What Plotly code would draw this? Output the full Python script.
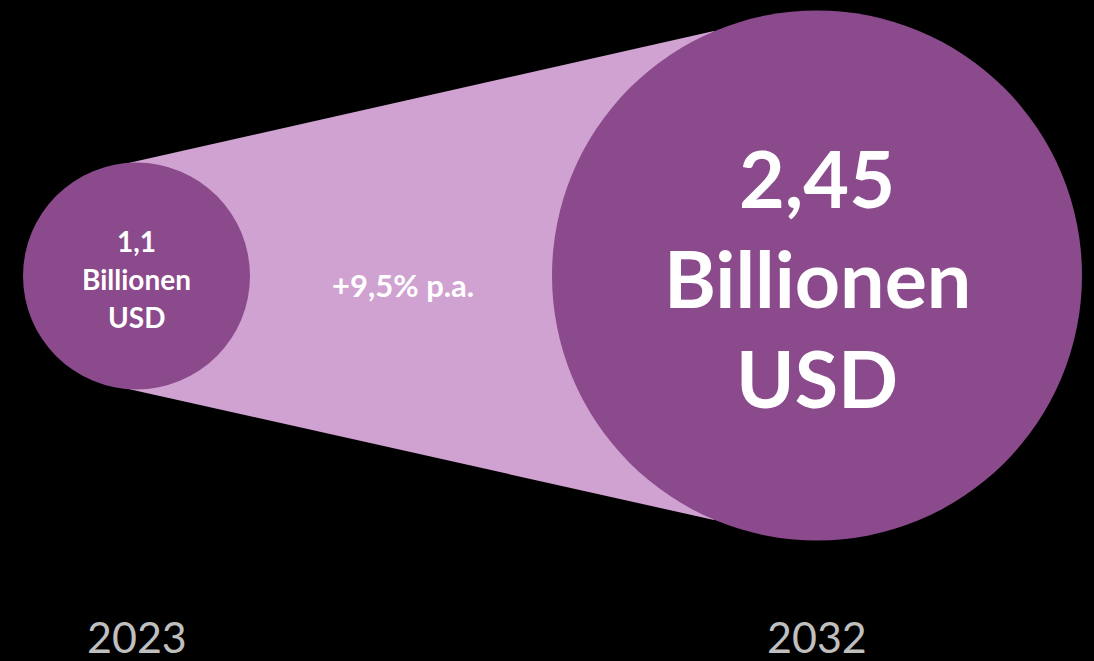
import plotly.graph_objects as go

years = ["2023", "2032"]
values = ["1,1", "2,45"]
unit_lines = ["Billionen", "USD"]
growth_label = "+9,5% p.a."

W, H = 1094, 661
DARK = "#8A4A8C"
LIGHT = "#D0A2D1"
GRAY = "#BFBFBF"

# layout geometry (pixel space)
small_c, small_r = (136.5, 276), 113.5
big_c, big_r = (817, 275.5), 265

fig = go.Figure()

shapes = []
# connecting band
shapes.append(dict(type="path",
                   path="M 124 164 L 714 31 L 714 520 L 124 388 Z",
                   fillcolor=LIGHT, line=dict(width=0), layer="below"))
for (cx, cy), r in [(small_c, small_r), (big_c, big_r)]:
    shapes.append(dict(type="circle", x0=cx - r, x1=cx + r, y0=cy - r, y1=cy + r,
                       fillcolor=DARK, line=dict(width=0), layer="below"))

ann = []
FONT = "Lato"
# small circle text
small_lines = [values[0]] + unit_lines
for i, t in enumerate(small_lines):
    ann.append(dict(x=small_c[0], y=241 + i * 38, text=f"<b>{t}</b>", showarrow=False,
                    font=dict(family=FONT, size=28, color="white"), xanchor="center", yanchor="middle"))
# big circle text
big_lines = [values[1]] + unit_lines
for i, t in enumerate(big_lines):
    ann.append(dict(x=big_c[0], y=177 + i * 100, text=f"<b>{t}</b>", showarrow=False,
                    font=dict(family=FONT, size=79, color="white"), xanchor="center", yanchor="middle"))
# growth
ann.append(dict(x=403, y=285, text=f"<b>{growth_label}</b>", showarrow=False,
                font=dict(family=FONT, size=31, color="white"), xanchor="center", yanchor="middle"))
# years
for x, t in zip([small_c[0], big_c[0]], years):
    ann.append(dict(x=x, y=636, text=t, showarrow=False,
                    font=dict(family=FONT, size=43, color=GRAY), xanchor="center", yanchor="middle"))

fig.update_layout(
    width=W, height=H,
    margin=dict(l=0, r=0, t=0, b=0),
    paper_bgcolor="black", plot_bgcolor="black",
    xaxis=dict(range=[0, W], visible=False, fixedrange=True),
    yaxis=dict(range=[H, 0], visible=False, fixedrange=True),
    shapes=shapes, annotations=ann, showlegend=False,
)

fig.write_html(
    "out.html",
    config={"displayModeBar": False},
    post_script="document.body.style.margin='0';document.body.style.background='black';document.body.style.overflow='hidden';",
)
